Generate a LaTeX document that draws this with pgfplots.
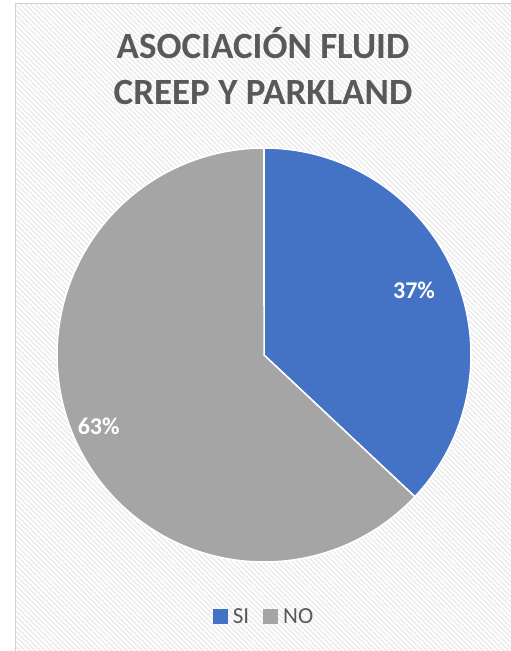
\documentclass[border=0pt]{standalone}
\usepackage{pgfplots}
\pgfplotsset{compat=1.18}
\usepackage{fontspec}
\setmainfont{Carlito}
\usetikzlibrary{patterns.meta}
\definecolor{siblue}{HTML}{4472C4}
\definecolor{nogray}{HTML}{A5A5A5}
\definecolor{titlegray}{HTML}{595959}
\def\valSI{37}
\def\valNO{63}
\begin{document}
\begin{tikzpicture}[x=1pt,y=1pt]
\useasboundingbox (0,0) rectangle (511,651);
\fill[white] (0,0) rectangle (511,651);
\path[pattern={Lines[angle=-45,distance=3.6pt,line width=1.4pt]}, pattern color=black!8] (15,0) rectangle (511,647);
\draw[black!18, line width=1pt] (15,0) -- (15,647) -- (511,647);
\node[font=\fontsize{37}{44}\selectfont\bfseries, text=titlegray, anchor=base] at (263,592) {ASOCIACIÓN FLUID};
\node[font=\fontsize{37}{44}\selectfont\bfseries, text=titlegray, anchor=base] at (263,546) {CREEP Y PARKLAND};
\begin{axis}[at={(264pt,296pt)}, anchor=center, width=414pt, height=414pt, scale only axis,
  xmin=-1, xmax=1, ymin=-1, ymax=1, axis lines=none, clip=false,
  legend columns=2,
  legend style={at={(0.5,-0.133)}, anchor=center, draw=none, fill=none,
    font=\fontsize{23}{27}\selectfont, text=titlegray,
    /tikz/every odd column/.append style={column sep=3pt},
    /tikz/every even column/.append style={column sep=12pt}},
  legend image code/.code={\fill[#1,draw=none,line width=0pt] (0pt,-7pt) rectangle (15pt,8pt);},
]
\addplot[fill=siblue, draw=white, line width=1.5pt, domain=0:{3.6*\valSI}, samples=120, variable=\t]
  ({sin(t)},{cos(t)}) -- (axis cs:0,0) -- cycle;
\addlegendentry{SI}
\addplot[fill=nogray, draw=white, line width=1.5pt, domain={3.6*\valSI}:360, samples=160, variable=\t]
  ({sin(t)},{cos(t)}) -- (axis cs:0,0) -- cycle;
\addlegendentry{NO}
\node[font=\fontsize{24}{27}\selectfont\bfseries, text=white] at (axis cs:{0.79*sin(1.8*\valSI)},{0.79*cos(1.8*\valSI)}) {\valSI\%};
\node[font=\fontsize{24}{27}\selectfont\bfseries, text=white] at (axis cs:{0.87*sin(3.6*\valSI+1.8*\valNO)},{0.87*cos(3.6*\valSI+1.8*\valNO)}) {\valNO\%};
\end{axis}
\end{tikzpicture}
\end{document}
